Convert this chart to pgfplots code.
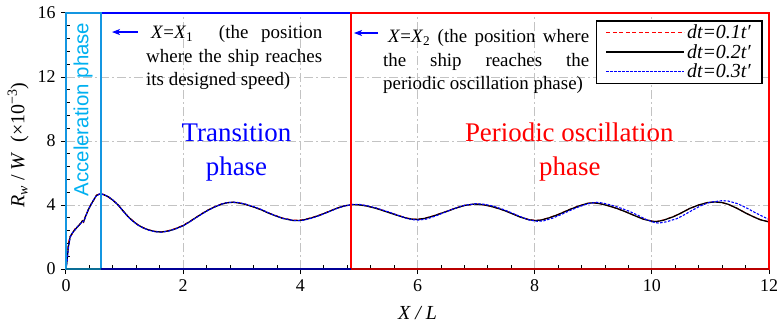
\documentclass[border=0pt]{standalone}
\usepackage{fontspec}
\setmainfont{Liberation Serif}
\newfontfamily\arialfont{Liberation Sans}
\usepackage{pgfplots}
\usepackage{pgfplotstable}
\pgfplotsset{compat=1.18}
\usetikzlibrary{arrows.meta}

\definecolor{accline}{RGB}{20,150,225}
\definecolor{acctext}{RGB}{0,176,240}
\definecolor{gridgray}{RGB}{195,195,195}
\definecolor{tranblue}{RGB}{0,0,255}
\definecolor{perred}{RGB}{255,0,0}
\definecolor{accdark}{RGB}{10,110,150}
\definecolor{trandark}{RGB}{0,0,150}
\definecolor{perdark}{RGB}{185,0,0}

% dt = 0.2t' (reference step)
\pgfplotstableread{
x y
0 0
0.02 0.6
0.04 1.4
0.07 2.0
0.10 2.2
0.15 2.45
0.20 2.65
0.25 2.85
0.28 3.0
0.30 2.95
0.33 3.25
0.38 3.7
0.43 4.05
0.47 4.3
0.52 4.6
0.58 4.69
0.64 4.65
0.72 4.52
0.80 4.3
0.89 4.0
0.97 3.65
1.06 3.27
1.14 3.0
1.23 2.75
1.32 2.57
1.41 2.44
1.52 2.34
1.63 2.31
1.75 2.38
1.86 2.5
2.00 2.71
2.10 2.93
2.20 3.17
2.32 3.45
2.43 3.69
2.55 3.9
2.66 4.06
2.75 4.14
2.85 4.17
2.95 4.13
3.06 4.04
3.20 3.88
3.34 3.69
3.44 3.52
3.54 3.375
3.70 3.16
3.88 3.03
3.97 3.03
4.05 3.06
4.20 3.2
4.34 3.375
4.48 3.58
4.62 3.79
4.75 3.94
4.88 4.02
5.00 4.01
5.13 3.94
5.30 3.78
5.47 3.58
5.65 3.36
5.82 3.17
5.92 3.11
6.00 3.1
6.12 3.16
6.27 3.31
6.38 3.45
6.50 3.6
6.65 3.8
6.80 3.97
6.97 4.06
7.10 4.03
7.25 3.92
7.40 3.76
7.50 3.63
7.60 3.48
7.75 3.25
7.90 3.08
8.00 3.03
8.10 3.05
8.25 3.2
8.40 3.4
8.50 3.56
8.60 3.72
8.75 3.93
8.90 4.1
9.00 4.14
9.12 4.08
9.25 3.96
9.40 3.79
9.55 3.58
9.68 3.375
9.85 3.12
10.00 2.99
10.08 2.96
10.20 3.05
10.37 3.27
10.50 3.5
10.65 3.79
10.80 4.0
10.95 4.15
11.08 4.19
11.20 4.15
11.30 4.05
11.45 3.8
11.60 3.5
11.73 3.27
11.85 3.08
12.00 2.94
}\dtB

% dt = 0.1t'
\pgfplotstableread{
x y
0 0
0.02 0.8
0.04 1.6
0.07 2.05
0.10 2.15
0.15 2.5
0.20 2.62
0.25 2.88
0.28 3.02
0.30 2.92
0.33 3.28
0.38 3.68
0.43 4.08
0.47 4.28
0.52 4.62
0.58 4.7
0.64 4.66
0.72 4.5
0.80 4.3
0.89 4.01
0.97 3.66
1.06 3.28
1.14 3.02
1.23 2.76
1.32 2.58
1.41 2.45
1.52 2.35
1.63 2.32
1.75 2.4
1.86 2.52
2.00 2.73
2.10 2.95
2.20 3.18
2.32 3.47
2.43 3.7
2.55 3.91
2.66 4.07
2.75 4.15
2.85 4.17
2.95 4.13
3.06 4.04
3.20 3.88
3.34 3.7
3.44 3.53
3.54 3.39
3.70 3.18
3.88 3.05
3.97 3.05
4.05 3.08
4.20 3.22
4.34 3.39
4.48 3.59
4.62 3.8
4.75 3.95
4.88 4.03
5.00 4.02
5.13 3.95
5.30 3.79
5.47 3.59
5.65 3.37
5.82 3.18
5.92 3.12
6.00 3.11
6.12 3.17
6.27 3.32
6.38 3.46
6.50 3.61
6.65 3.81
6.80 3.97
6.97 4.06
7.10 4.03
7.25 3.92
7.40 3.76
7.50 3.63
7.60 3.49
7.75 3.26
7.90 3.09
8.00 3.04
8.10 3.06
8.25 3.21
8.40 3.41
8.50 3.57
8.60 3.73
8.75 3.94
8.90 4.1
9.00 4.14
9.12 4.08
9.25 3.96
9.40 3.79
9.55 3.58
9.68 3.38
9.85 3.13
10.00 3.0
10.08 2.97
10.20 3.06
10.37 3.28
10.50 3.5
10.65 3.79
10.80 4.0
10.95 4.15
11.08 4.19
11.20 4.15
11.30 4.05
11.45 3.8
11.60 3.51
11.73 3.28
11.85 3.09
12.00 2.95
}\dtA

% dt = 0.3t'
\pgfplotstableread{
x y
0 0
0.02 0.5
0.04 1.3
0.07 1.95
0.10 2.22
0.15 2.42
0.20 2.66
0.25 2.84
0.28 2.98
0.30 2.96
0.33 3.22
0.38 3.72
0.43 4.03
0.47 4.32
0.52 4.58
0.58 4.7
0.64 4.66
0.72 4.53
0.80 4.31
0.89 4.0
0.97 3.64
1.06 3.26
1.14 2.99
1.23 2.74
1.32 2.56
1.41 2.43
1.52 2.33
1.63 2.3
1.75 2.37
1.86 2.49
2.00 2.7
2.10 2.92
2.20 3.16
2.32 3.44
2.43 3.68
2.55 3.9
2.66 4.06
2.75 4.15
2.85 4.18
2.95 4.15
3.06 4.06
3.20 3.9
3.34 3.71
3.44 3.54
3.54 3.38
3.70 3.17
3.88 3.03
3.97 3.02
4.05 3.05
4.20 3.18
4.34 3.36
4.48 3.57
4.62 3.78
4.75 3.94
4.90 4.04
5.02 4.03
5.13 3.96
5.30 3.81
5.47 3.61
5.65 3.38
5.82 3.16
5.92 3.08
6.02 3.06
6.15 3.12
6.30 3.3
6.45 3.52
6.60 3.74
6.80 3.98
7.00 4.08
7.15 4.04
7.30 3.92
7.45 3.74
7.60 3.52
7.75 3.28
7.90 3.07
8.05 2.98
8.15 3.01
8.30 3.17
8.45 3.4
8.60 3.65
8.75 3.88
8.90 4.07
9.05 4.17
9.15 4.13
9.30 4.0
9.45 3.83
9.60 3.63
9.75 3.38
9.90 3.1
10.05 2.9
10.12 2.87
10.25 2.95
10.43 3.15
10.55 3.38
10.70 3.69
10.85 3.98
11.00 4.18
11.20 4.27
11.30 4.25
11.45 4.1
11.60 3.85
11.75 3.55
11.90 3.27
12.00 3.1
}\dtC

\begin{document}
\begin{tikzpicture}
% inward minor ticks
\begin{axis}[
  at={(0,0)}, anchor=south west,
  scale only axis, width=703bp, height=256bp,
  xmin=0, xmax=12, ymin=0, ymax=16,
  axis line style={draw=none},
  xtick={0.4,0.8,1.2,1.6,2.4,2.8,3.2,3.6,4.4,4.8,5.2,5.6,6.4,6.8,7.2,7.6,8.4,8.8,9.2,9.6,10.4,10.8,11.2,11.6},
  ytick={0.8,1.6,2.4,3.2,4.8,5.6,6.4,7.2,8.8,9.6,10.4,11.2,12.8,13.6,14.4,15.2},
  xticklabels={}, yticklabels={},
  xtick pos=left, ytick pos=left,
  tick align=inside, major tick length=4bp,
  tick style={black, line width=0.8bp},
]
\end{axis}
\begin{axis}[
  at={(0,0)}, anchor=south west,
  scale only axis, width=703bp, height=256bp,
  xmin=0, xmax=12, ymin=0, ymax=16,
  xtick={0,2,...,12}, ytick={0,4,...,16},
  xtick pos=left, ytick pos=left,
  tick align=outside, major tick length=5bp,
  tick style={black, line width=1bp},
  axis line style={line width=1.2bp},
  grid=major,
  major grid style={gridgray, line width=0.9bp, dash pattern=on 9bp off 3bp on 2bp off 3bp},
  /pgf/number format/assume math mode=true,
  ticklabel style={font=\fontsize{18}{18}\selectfont},
  xticklabel style={yshift=-2bp},
  yticklabel style={xshift=-2bp},
  xlabel={\textit{X / L}},
  xlabel style={font=\fontsize{20}{20}\selectfont, at={(axis description cs:0.5,-0.172)}, anchor=center},
  ylabel={\textit{R}\textsubscript{\textit{w}} / \textit{W}\ \ (×10\textsuperscript{−3})},
  ylabel style={font=\fontsize{20}{20}\selectfont, at={(axis description cs:-0.068,0.484)}, anchor=center},
  clip=false,
  legend style={at={(axis description cs:0.99,0.969)}, anchor=north east,
    draw=none, fill=white, name=lgd,
    font=\fontsize{20}{20}\selectfont\itshape,
    inner xsep=9bp, inner ysep=2bp, row sep=0bp,
    /tikz/every even column/.append style={column sep=5bp}},
  legend cell align=right,
  legend image code/.code={\draw[#1] (0bp,0bp) -- (78bp,0bp);},
]
\addplot[draw=perred, color=perred, line width=1.1bp, dash pattern=on 4bp off 2.5bp] table {\dtA};
\addlegendentry{dt=0.1t′}
\addplot[draw=black, color=black, line width=1.3bp] table {\dtB};
\addlegendentry{dt=0.2t′}
\addplot[draw=tranblue, color=tranblue, line width=1.1bp, dash pattern=on 2.5bp off 1.5bp] table {\dtC};
\addlegendentry{dt=0.3t′}

% phase boxes
\draw[tranblue, line width=1.8bp] (axis cs:0.6,0) rectangle (axis cs:4.87,16);
\draw[perred, line width=1.8bp] (axis cs:4.87,0) rectangle (axis cs:12,16);
\draw[accline, line width=1.8bp] (axis cs:0,0) rectangle (axis cs:0.6,16);
% box bottoms where they sit on the x axis
\draw[accdark, line width=1.8bp] (axis cs:0,0) -- (axis cs:0.6,0);
\draw[trandark, line width=1.8bp] (axis cs:0.6,0) -- (axis cs:4.87,0);
\draw[perdark, line width=1.8bp] (axis cs:4.87,0) -- (axis cs:12,0);

% phase names
\node[rotate=90, text=acctext, font=\arialfont\fontsize{20.5}{20.5}\selectfont] at (axis cs:0.29,9.97) {Acceleration phase};
\node[anchor=base, text=tranblue, font=\fontsize{27}{27}\selectfont] at (axis cs:2.91,7.94) {Transition};
\node[anchor=base, text=tranblue, font=\fontsize{27}{27}\selectfont] at (axis cs:2.91,5.875) {phase};
\node[anchor=base, text=perred, font=\fontsize{27}{27}\selectfont] at (axis cs:8.59,7.94) {Periodic oscillation};
\node[anchor=base, text=perred, font=\fontsize{27}{27}\selectfont] at (axis cs:8.6,5.875) {phase};

% boundary notes
\draw[tranblue, line width=1.2bp, -{Stealth[length=8bp,width=6bp,inset=2bp]}] (axis cs:1.229,14.81) -- (axis cs:0.785,14.81);
\draw[tranblue, line width=1.2bp, -{Stealth[length=8bp,width=6bp,inset=2bp]}] (axis cs:5.326,14.75) -- (axis cs:4.916,14.75);
\node[anchor=base west, text width=176bp, align=justify, inner sep=0pt, font=\fontsize{19}{23.5}\selectfont] at (axis cs:1.366,14.375)
  {\hyphenpenalty=10000\relax\hspace*{5bp}\textit{X}=\textit{X}\textsubscript{1}\ \ (the position\linebreak where the ship reaches\linebreak its designed speed)};
\node[anchor=base west, text width=206bp, align=justify, inner sep=0pt, font=\fontsize{19}{23.5}\selectfont] at (axis cs:5.411,14.125)
  {\hyphenpenalty=10000\relax\hspace*{5bp}\textit{X}=\textit{X}\textsubscript{2} (the position where\linebreak the ship reaches the\linebreak periodic oscillation phase)};
\end{axis}
% legend frame
\draw[black, line width=1.2bp] (lgd.south west) rectangle (lgd.north east);
\pgfresetboundingbox
\path[use as bounding box] (-66bp,-60bp) rectangle (713bp,269bp);
\end{tikzpicture}
\end{document}
